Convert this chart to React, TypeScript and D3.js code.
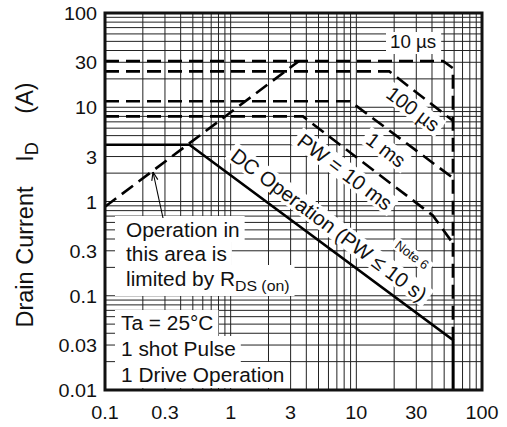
import React, { useEffect, useRef } from 'react';
import * as d3 from 'd3';

const W = 507;
const H = 427;

const xTickValues = [0.1, 0.3, 1, 3, 10, 30, 100];
const xTickLabels = ['0.1', '0.3', '1', '3', '10', '30', '100'];
const yTickValues = [0.01, 0.03, 0.1, 0.3, 1, 3, 10, 30, 100];
const yTickLabels = ['0.01', '0.03', '0.1', '0.3', '1', '3', '10', '30', '100'];

// DC operation (solid)
const dcV = [0.1, 0.47, 58.7, 58.7];
const dcI = [4, 4, 0.034, 0.01];
// R_DS(on) limit (dashed)
const rdsV = [0.1, 3.5];
const rdsI = [0.88, 31];
// Pulse widths (dashed)
const pw10usV = [0.1, 49, 58.7, 58.7];
const pw10usI = [31, 31, 26, 0.034];
const pw100usV = [0.1, 18.3, 58.7];
const pw100usI = [24, 24, 7.2];
const pw1msV = [0.1, 8.9, 58.7];
const pw1msI = [11.6, 11.6, 1.78];
const pw10msV = [0.1, 3.76, 40.6, 58.7];
const pw10msI = [8, 8, 0.71, 0.36];

const FONT = "'Liberation Sans', Arial, Helvetica, sans-serif";

export default function App() {
  const ref = useRef<SVGSVGElement>(null);

  useEffect(() => {
    const svg = d3.select(ref.current);
    svg.selectAll('*').remove();
    const L = 105, R = 482, T = 13, B = 390;
    const x = d3.scaleLog().domain([0.1, 100]).range([L, R]);
    const y = d3.scaleLog().domain([0.01, 100]).range([B, T]);
    const SX = 1.07;

    svg.append('rect').attr('width', W).attr('height', H).attr('fill', '#fff');

    const gridL = svg.append('g');
    const bgL = svg.append('g');
    const lineL = svg.append('g');
    const textL = svg.append('g');

    // grid
    const gx: number[] = [];
    for (let e = -1; e < 2; e++) for (let k = 1; k < 10; k++) gx.push(+(k * Math.pow(10, e)).toPrecision(3));
    const gy: number[] = [];
    for (let e = -2; e < 2; e++) for (let k = 1; k < 10; k++) gy.push(+(k * Math.pow(10, e)).toPrecision(3));
    gridL.selectAll('line.v').data(gx.slice(1)).enter().append('line')
      .attr('x1', d => x(d)).attr('x2', d => x(d)).attr('y1', T).attr('y2', B)
      .attr('stroke', '#222').attr('stroke-width', 1);
    gridL.selectAll('line.h').data(gy.slice(1)).enter().append('line')
      .attr('y1', d => y(d)).attr('y2', d => y(d)).attr('x1', L).attr('x2', R)
      .attr('stroke', '#222').attr('stroke-width', 1);

    const line = d3.line<[number, number]>().x(d => x(d[0])).y(d => y(d[1]));
    const zip = (a: number[], b: number[]) => a.map((v, i) => [v, b[i]] as [number, number]);

    const dashed = [
      zip(rdsV, rdsI), zip(pw10usV, pw10usI), zip(pw100usV, pw100usI),
      zip(pw1msV, pw1msI), zip(pw10msV, pw10msI),
    ];
    dashed.forEach(pts => {
      lineL.append('path').attr('d', line(pts)).attr('fill', 'none')
        .attr('stroke', '#000').attr('stroke-width', 2.6).attr('stroke-dasharray', '14,7');
    });
    lineL.append('path').attr('d', line(zip(dcV, dcI))).attr('fill', 'none')
      .attr('stroke', '#000').attr('stroke-width', 2.6);

    const hText = (px: number, py: number, str: string, size: number, anchor = 'start', sub?: string) => {
      const g = textL.append('g').attr('transform', `translate(${px},${py}) scale(${SX},1)`);
      const t = g.append('text').attr('font-family', FONT).attr('font-size', size)
        .attr('text-anchor', anchor).attr('fill', '#111').text(str);
      if (sub) t.append('tspan').attr('font-size', size * 0.76).attr('dy', 5).text(sub);
      const bb = (t.node() as SVGTextElement).getBBox();
      return { x: px + bb.x * SX, y: py + bb.y, w: bb.width * SX, h: bb.height };
    };
    const whiteBox = (x0: number, y0: number, x1: number, y1: number) => {
      bgL.append('rect').attr('x', x0).attr('y', y0).attr('width', x1 - x0).attr('height', y1 - y0).attr('fill', '#fff');
    };

    // tick labels
    yTickValues.forEach((v, i) => hText(97, y(v) + 7, yTickLabels[i], 18.5, 'end'));
    xTickValues.forEach((v, i) => hText(x(v), 419, xTickLabels[i], 18.5, 'middle'));

    // annotation blocks
    const opLines = ['Operation in', 'this area is', 'limited by R'];
    const opBase = [237, 261, 286];
    opLines.forEach((s, i) => {
      const bb = hText(126, opBase[i], s, 19.5, 'start', i === 2 ? 'DS (on)' : undefined);
      whiteBox(115, opBase[i] - 21, bb.x + bb.w + 5, opBase[i] + (i === 2 ? 10 : 5));
    });
    const taLines = ['Ta = 25°C', '1 shot Pulse', '1 Drive Operation'];
    const taBase = [330, 356, 382];
    taLines.forEach((s, i) => {
      const bb = hText(121, taBase[i], s, 19.5, 'start');
      whiteBox(115, taBase[i] - 20, bb.x + bb.w + 5, i === 2 ? 388 : taBase[i] + 7);
    });
    const bb10 = hText(390, 48, '10 µs', 17.5, 'start');
    whiteBox(bb10.x - 4, 32, bb10.x + bb10.w + 5, 54);

    // rotated labels
    const ANG = 37;
    const rText = (cx: number, cy: number, str: string, size: number) => {
      const g = textL.append('g').attr('transform', `translate(${cx},${cy}) rotate(${ANG})`);
      const t = g.append('text').attr('font-family', FONT).attr('font-size', size)
        .attr('text-anchor', 'middle').attr('dy', '0.35em').attr('fill', '#111').text(str);
      const bb = (t.node() as SVGTextElement).getBBox();
      bgL.append('rect').attr('transform', `translate(${cx},${cy}) rotate(${ANG})`)
        .attr('x', bb.x - 4).attr('y', bb.y + 1).attr('width', bb.width + 8).attr('height', bb.height - 2)
        .attr('fill', '#fff');
    };
    rText(413, 109, '100 µs', 20);
    rText(386, 150, '1 ms', 20);
    rText(345, 172, 'PW = 10 ms', 20.5);
    rText(329, 225, 'DC Operation (PW ≤ 10 s)', 20.5);
    rText(412, 255, 'Note 6', 13);

    // arrow
    const tail = [163, 218], tip = [153, 172];
    lineL.append('line').attr('x1', tail[0]).attr('y1', tail[1]).attr('x2', tip[0]).attr('y2', tip[1])
      .attr('stroke', '#000').attr('stroke-width', 1.1);
    const ang = Math.atan2(tail[1] - tip[1], tail[0] - tip[0]);
    [-0.35, 0.35].forEach(da => {
      lineL.append('line').attr('x1', tip[0]).attr('y1', tip[1])
        .attr('x2', tip[0] + 9 * Math.cos(ang + da)).attr('y2', tip[1] + 9 * Math.sin(ang + da))
        .attr('stroke', '#000').attr('stroke-width', 1.1);
    });

    // axis title
    const tg = textL.append('g').attr('transform', 'translate(33,0) rotate(-90)');
    tg.append('text').attr('x', -257).attr('font-family', FONT).attr('font-size', 23.5)
      .attr('text-anchor', 'middle').attr('fill', '#111').text('Drain Current');
    const id = tg.append('text').attr('x', -152).attr('font-family', FONT).attr('font-size', 23.5)
      .attr('text-anchor', 'middle').attr('fill', '#111').text('I');
    id.append('tspan').attr('font-size', 18).attr('dy', 5).text('D');
    tg.append('text').attr('x', -98).attr('font-family', FONT).attr('font-size', 23.5)
      .attr('text-anchor', 'middle').attr('fill', '#111').text('(A)');

    // frame
    svg.append('rect').attr('x', L).attr('y', T).attr('width', R - L).attr('height', B - T)
      .attr('fill', 'none').attr('stroke', '#111').attr('stroke-width', 3);
  }, []);

  return (
    <svg ref={ref} width={W} height={H} style={{ position: 'absolute', left: 0, top: 0 }} />
  );
}
